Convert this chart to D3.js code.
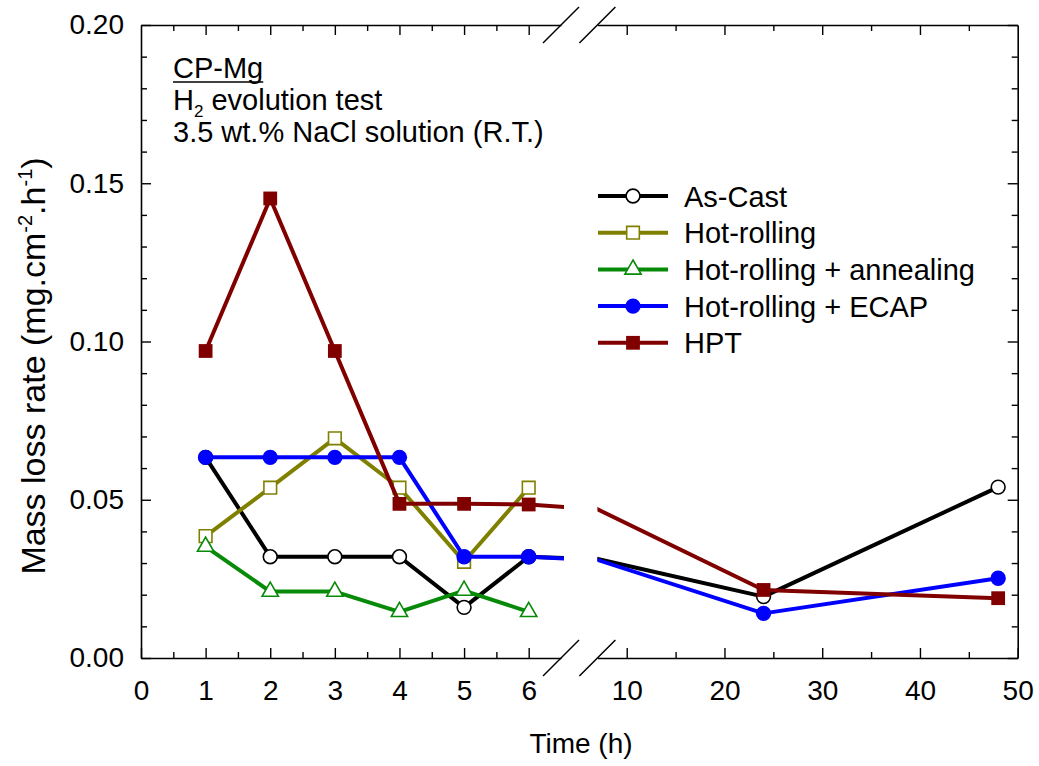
<!DOCTYPE html>
<html>
<head>
<meta charset="utf-8">
<script src="https://cdn.jsdelivr.net/npm/d3@7"></script>
<style>
  body { margin: 0; background: #fff; }
  text { font-family: Arial, "Liberation Sans", sans-serif; fill: #000; }
</style>
</head>
<body>
<div id="main"></div>
<script>
// time points, left (short) and right (long) parts of the broken axis
const hoursShort = [1, 2, 3, 4, 5, 6];
const hoursLong = [24, 48];

// mass loss rate, mg.cm-2.h-1
const asCast = [0.0634, 0.032, 0.032, 0.032, 0.016, 0.032];
const asCastLong = [0.0194, 0.054];
const hotRolling = [0.0385, 0.0538, 0.0694, 0.0538, 0.0304, 0.0538];
const hotRollingAnn = [0.0352, 0.021, 0.021, 0.0146, 0.0213, 0.0146];
const hotRollingEcap = [0.0634, 0.0634, 0.0634, 0.0634, 0.032, 0.032];
const hotRollingEcapLong = [0.0141, 0.0252];
const hpt = [0.097, 0.1452, 0.097, 0.0487, 0.0487, 0.0485];
const hptLong = [0.0215, 0.0189];

const seriesNames = ["As-Cast", "Hot-rolling", "Hot-rolling + annealing", "Hot-rolling + ECAP", "HPT"];

const xTicksShort = [0, 1, 2, 3, 4, 5, 6];
const xTicksLong = [10, 20, 30, 40, 50];
const yTicks = [0, 0.05, 0.10, 0.15, 0.20];

const width = 1039, height = 766;
const FONT = 28;

const series = [
  { name: seriesNames[0], short: asCast, long: asCastLong, color: "#000000", shape: d3.symbolCircle, size: 150, filled: false },
  { name: seriesNames[1], short: hotRolling, long: null, color: "#808000", shape: d3.symbolSquare, size: 160, filled: false },
  { name: seriesNames[2], short: hotRollingAnn, long: null, color: "#078a07", shape: d3.symbolTriangle, size: 115, filled: false },
  { name: seriesNames[3], short: hotRollingEcap, long: hotRollingEcapLong, color: "#0000ff", shape: d3.symbolCircle, size: 185, filled: true },
  { name: seriesNames[4], short: hpt, long: hptLong, color: "#800000", shape: d3.symbolSquare, size: 190, filled: true }
];

const xL = d3.scaleLinear().domain([0, 6.5]).range([141, 561]);
const xR = d3.scaleLinear().domain([7, 50]).range([597.4, 1017.7]);
const y = d3.scaleLinear().domain([0, 0.2]).range([658, 25]);

const svg = d3.select('#main')
  .append('svg')
  .attr('width', width)
  .attr('height', height);

const defs = svg.append('defs');
defs.append('clipPath').attr('id', 'clipL')
  .append('rect').attr('x', xL(0)).attr('y', 0).attr('width', 564 - xL(0)).attr('height', height);
defs.append('clipPath').attr('id', 'clipR')
  .append('rect').attr('x', xR(7)).attr('y', 0).attr('width', xR(50) - xR(7)).attr('height', height);

// ---- axes ----
const styleAxis = (g, labels) => {
  g.selectAll('.domain').attr('stroke', '#000').attr('stroke-width', 1.6);
  g.selectAll('.tick line').attr('stroke', '#000').attr('stroke-width', 1.4);
  g.selectAll('.tick text').attr('font-size', FONT).attr('fill', '#000')
    .style('font-family', 'Arial, "Liberation Sans", sans-serif');
  if (!labels) g.selectAll('.tick text').remove();
};

const minorOf = (from, to, step, skip) => d3.range(from, to + step / 2, step).filter(v => !skip.some(s => Math.abs(s - v) < 1e-9));

// bottom, left part
svg.append('g').attr('transform', `translate(0,${y(0)})`)
  .call(d3.axisBottom(xL).tickValues(xTicksShort).tickFormat(d3.format('d')).tickSizeInner(-10).tickSizeOuter(0).tickPadding(22))
  .call(g => styleAxis(g, true));
svg.append('g').attr('transform', `translate(0,${y(0)})`)
  .call(d3.axisBottom(xL).tickValues(minorOf(0.5, 6, 1, [])).tickFormat('').tickSizeInner(-6).tickSizeOuter(0))
  .call(g => { g.select('.domain').remove(); styleAxis(g, false); });
// bottom, right part
svg.append('g').attr('transform', `translate(0,${y(0)})`)
  .call(d3.axisBottom(xR).tickValues(xTicksLong).tickFormat(d3.format('d')).tickSizeInner(-10).tickSizeOuter(0).tickPadding(22))
  .call(g => styleAxis(g, true));
svg.append('g').attr('transform', `translate(0,${y(0)})`)
  .call(d3.axisBottom(xR).tickValues([15, 25, 35, 45]).tickFormat('').tickSizeInner(-6).tickSizeOuter(0))
  .call(g => { g.select('.domain').remove(); styleAxis(g, false); });
// top, both parts
svg.append('g').attr('transform', `translate(0,${y(0.2)})`)
  .call(d3.axisTop(xL).tickValues(xTicksShort.slice(1)).tickSizeInner(-10).tickSizeOuter(0))
  .call(g => styleAxis(g, false));
svg.append('g').attr('transform', `translate(0,${y(0.2)})`)
  .call(d3.axisTop(xL).tickValues(minorOf(0.5, 6, 1, [])).tickSizeInner(-6).tickSizeOuter(0))
  .call(g => { g.select('.domain').remove(); styleAxis(g, false); });
svg.append('g').attr('transform', `translate(0,${y(0.2)})`)
  .call(d3.axisTop(xR).tickValues([10, 20, 30, 40]).tickSizeInner(-10).tickSizeOuter(0))
  .call(g => styleAxis(g, false));
svg.append('g').attr('transform', `translate(0,${y(0.2)})`)
  .call(d3.axisTop(xR).tickValues([15, 25, 35, 45]).tickSizeInner(-6).tickSizeOuter(0))
  .call(g => { g.select('.domain').remove(); styleAxis(g, false); });

// left and right
const yMinor = minorOf(0.01, 0.19, 0.01, yTicks);
svg.append('g').attr('transform', `translate(${xL(0)},0)`)
  .call(d3.axisLeft(y).tickValues(yTicks).tickFormat(d3.format('.2f')).tickSizeInner(-10).tickSizeOuter(0).tickPadding(17))
  .call(g => styleAxis(g, true));
svg.append('g').attr('transform', `translate(${xL(0)},0)`)
  .call(d3.axisLeft(y).tickValues(yMinor).tickFormat('').tickSizeInner(-6).tickSizeOuter(0))
  .call(g => { g.select('.domain').remove(); styleAxis(g, false); });
svg.append('g').attr('transform', `translate(${xR(50)},0)`)
  .call(d3.axisRight(y).tickValues(yTicks).tickSizeInner(-10).tickSizeOuter(0))
  .call(g => styleAxis(g, false));
svg.append('g').attr('transform', `translate(${xR(50)},0)`)
  .call(d3.axisRight(y).tickValues(yMinor).tickSizeInner(-6).tickSizeOuter(0))
  .call(g => { g.select('.domain').remove(); styleAxis(g, false); });

// break marks
[y(0), y(0.2)].forEach(yy => {
  [xL(6.5), xR(7)].forEach(xx => {
    svg.append('line')
      .attr('x1', xx - 18).attr('y1', yy + 18)
      .attr('x2', xx + 18).attr('y2', yy - 18)
      .attr('stroke', '#000').attr('stroke-width', 1.5);
  });
});

// ---- series ----
const line = (xs) => d3.line().x(d => xs(d[0])).y(d => y(d[1]));

series.forEach(s => {
  const ptsShort = hoursShort.map((h, i) => [h, s.short[i]]);
  const ptsLong = s.long ? hoursLong.map((h, i) => [h, s.long[i]]) : [];
  const g = svg.append('g');

  g.append('path')
    .attr('clip-path', 'url(#clipL)')
    .attr('d', line(xL)(ptsShort.concat(ptsLong)))
    .attr('fill', 'none').attr('stroke', s.color).attr('stroke-width', 4)
    .attr('stroke-linejoin', 'round');

  if (s.long) {
    g.append('path')
      .attr('clip-path', 'url(#clipR)')
      .attr('d', line(xR)([ptsShort[ptsShort.length - 1]].concat(ptsLong)))
      .attr('fill', 'none').attr('stroke', s.color).attr('stroke-width', 4)
      .attr('stroke-linejoin', 'round');
  }

  const sym = d3.symbol().type(s.shape).size(s.size);
  const marks = ptsShort.map(p => [xL(p[0]), y(p[1])]).concat(ptsLong.map(p => [xR(p[0]), y(p[1])]));
  g.selectAll('path.mark')
    .data(marks)
    .enter().append('path')
    .attr('class', 'mark')
    .attr('transform', d => `translate(${d[0]},${d[1]})`)
    .attr('d', sym)
    .attr('fill', s.filled ? s.color : '#fff')
    .attr('stroke', s.color)
    .attr('stroke-width', s.filled ? 0 : 1.6);
});

// ---- legend ----
const legend = svg.append('g').attr('transform', 'translate(598,196)');
const items = legend.selectAll('g')
  .data(series)
  .enter().append('g')
  .attr('transform', (d, i) => `translate(0,${i * 36.7})`);
items.append('line')
  .attr('x1', 0).attr('x2', 70).attr('y1', 0).attr('y2', 0)
  .attr('stroke', d => d.color).attr('stroke-width', 4);
items.append('path')
  .attr('transform', 'translate(35,0)')
  .attr('d', d => d3.symbol().type(d.shape).size(d.size)())
  .attr('fill', d => d.filled ? d.color : '#fff')
  .attr('stroke', d => d.color)
  .attr('stroke-width', d => d.filled ? 0 : 1.6);
items.append('text')
  .attr('x', 86).attr('y', 10.5)
  .attr('font-size', 29)
  .text(d => d.name);

// ---- annotation ----
const note = svg.append('g');
const cp = note.append('text').attr('x', 173).attr('y', 78).attr('font-size', 29).text('CP-Mg');
const cpw = cp.node().getComputedTextLength();
note.append('line').attr('x1', 173).attr('x2', 173 + cpw).attr('y1', 82).attr('y2', 82)
  .attr('stroke', '#000').attr('stroke-width', 1.6);
const h2 = note.append('text').attr('x', 173).attr('y', 110).attr('font-size', 29);
h2.append('tspan').text('H');
h2.append('tspan').attr('font-size', 17).attr('dy', 7).text('2');
h2.append('tspan').attr('dy', -7).text(' evolution test');
note.append('text').attr('x', 173).attr('y', 142).attr('font-size', 29)
  .text('3.5 wt.% NaCl solution (R.T.)');

// ---- axis titles ----
svg.append('text')
  .attr('x', 581).attr('y', 753)
  .attr('text-anchor', 'middle')
  .attr('font-size', FONT)
  .text('Time (h)');

const yl = svg.append('text')
  .attr('transform', 'translate(45,366) rotate(-90)')
  .attr('text-anchor', 'middle')
  .attr('font-size', 34);
yl.append('tspan').text('Mass loss rate (mg.cm');
yl.append('tspan').attr('font-size', 20).attr('dy', -13).text('-2');
yl.append('tspan').attr('dy', 13).text('.h');
yl.append('tspan').attr('font-size', 20).attr('dy', -13).text('-1');
yl.append('tspan').attr('dy', 13).text(')');
</script>
</body>
</html>
